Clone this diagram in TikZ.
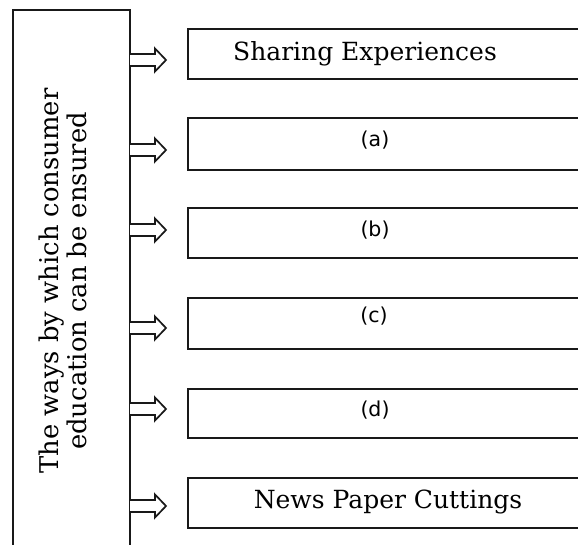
\documentclass[tikz,border=0pt]{standalone}
\usepackage{fontspec}
\setmainfont{DejaVu Serif}
\newfontfamily\lblfont{DejaVu Sans}
\tikzset{
  frame/.style={draw=black!90, line width=1.9pt},
  box/.style={draw=black!90, line width=1.9pt, rectangle, minimum width=413pt, minimum height=50pt, inner sep=0pt, anchor=west},
  txt/.style={inner sep=0pt, font=\fontsize{25}{28}\selectfont},
  sidetxt/.style={inner sep=0pt, font=\fontsize{25.8}{28}\selectfont},
  lbl/.style={inner sep=0pt, font=\lblfont\fontsize{20.5}{24}\selectfont},
  arr/.style={draw=black!90, line width=1.7pt, line join=miter, fill=white}
}
\newcommand{\blkarrow}[1]{%
  \draw[arr] (L.east |- 0,#1-6) -- (155,#1-6) -- (155,#1-11.5) -- (166,#1) -- (155,#1+11.5) -- (155,#1+6) -- (L.east |- 0,#1+6);}
\begin{document}
\begin{tikzpicture}[x=1pt,y=-1pt]
\useasboundingbox (0,0) rectangle (578,545);
\clip (0,0) rectangle (578,545);
% left frame (open at the bottom)
\coordinate (L) at (130,280);
\draw[frame] (13,550) -- (13,10) -- (130,10) -- (130,550);
\node[sidetxt, rotate=90, align=center] (lt) at (63,281) {The ways by which consumer\\education can be ensured};
% boxes
\node[box] (b1) at (187,54) {};
\node[box, minimum height=52pt] (b2) at (187,144) {};
\node[box] (b3) at (187,233) {};
\node[box, minimum height=51pt] (b4) at (187,323.5) {};
\node[box, minimum height=49pt] (b5) at (187,413.5) {};
\node[box] (b6) at (187,503) {};
% labels
\node[txt] (t1) at (365,54) {Sharing Experiences};
\node[lbl] (t2) at (375,140) {(a)};
\node[lbl] (t3) at (375,230) {(b)};
\node[lbl] (t4) at (374,316) {(c)};
\node[lbl] (t5) at (375,410) {(d)};
\node[txt] (t6) at (388,502) {News Paper Cuttings};
% arrows
\blkarrow{60}
\blkarrow{150}
\blkarrow{230}
\blkarrow{328}
\blkarrow{409}
\blkarrow{506}
\end{tikzpicture}
\end{document}
